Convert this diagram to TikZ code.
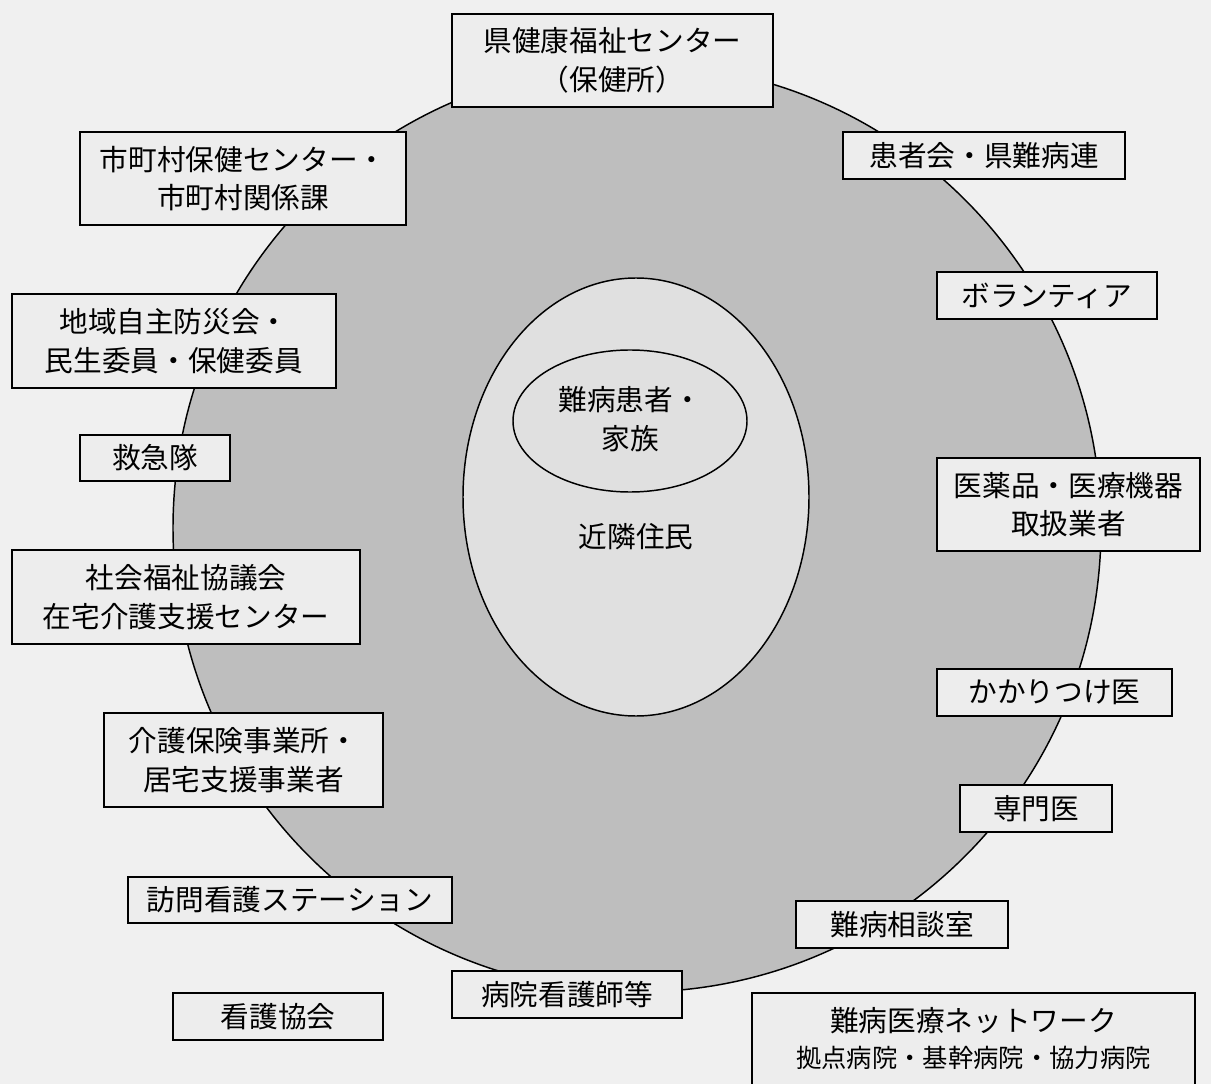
\documentclass[tikz,border=0pt]{standalone}
\usepackage{fontspec}
\setmainfont{Noto Sans CJK JP}
\definecolor{bgcol}{HTML}{F0F0F0}
\definecolor{circcol}{HTML}{BEBEBE}
\definecolor{innercol}{HTML}{E0E0E0}
\definecolor{boxcol}{HTML}{EDEDED}
\begin{document}
\begin{tikzpicture}[x=0.75pt,y=-0.75pt,
  orgbox/.style={draw=black, line width=1.1pt, fill=boxcol, align=center, inner sep=0pt,
    font=\fontsize{21.5}{29}\selectfont},
  label/.style={align=center, inner sep=0pt, font=\fontsize{21.5}{29}\selectfont},
  ring/.style={draw=black, line width=1.1pt}]
\useasboundingbox (0,0) rectangle (1211,1084);
\clip (0,0) rectangle (1211,1084);
\fill[bgcol] (0,0) rectangle (1211,1084);
% outer region
\draw[ring, fill=circcol] (637,528) circle [radius=348pt];
% neighbourhood ellipse
\draw[ring, fill=innercol] (636,497) ellipse [x radius=129.75pt, y radius=164.25pt];
% patient ellipse
\draw[ring, fill=innercol] (630,421) ellipse [x radius=87.75pt, y radius=53.25pt];
\node[label] (patient) at (630,419) {難病患者・\\家族};
\node[label] (neighbor) at (636,537) {近隣住民};
% boxes
\node[orgbox, minimum width=240.75pt, minimum height=69.75pt] (ken) at (612.5,60.5) {県健康福祉センター\\（保健所）};
\node[orgbox, minimum width=244.5pt, minimum height=69.75pt] (city) at (243,178.5) {市町村保健センター・\\市町村関係課};
\node[orgbox, minimum width=243pt, minimum height=70.5pt] (local) at (174,341) {地域自主防災会・\\民生委員・保健委員};
\node[orgbox, minimum width=112.5pt, minimum height=34.5pt] (ambul) at (155,458) {救急隊};
\node[orgbox, minimum width=261pt, minimum height=70.5pt] (welfare) at (186,597) {社会福祉協議会\\在宅介護支援センター};
\node[orgbox, minimum width=209.25pt, minimum height=70.5pt] (care) at (243.5,760) {介護保険事業所・\\居宅支援事業者};
\node[orgbox, minimum width=243pt, minimum height=34.5pt] (visit) at (290,900) {訪問看護ステーション};
\node[orgbox, minimum width=157.5pt, minimum height=35.25pt] (nurseassoc) at (278,1016.5) {看護協会};
\node[orgbox, minimum width=172.5pt, minimum height=35.25pt] (hospnurse) at (567,994.5) {病院看護師等};
\node[orgbox, minimum width=211.5pt, minimum height=35.25pt] (assoc) at (984,155.5) {患者会・県難病連};
\node[orgbox, minimum width=165pt, minimum height=35.25pt] (volun) at (1047,295.5) {ボランティア};
\node[orgbox, minimum width=197.25pt, minimum height=69.75pt] (pharma) at (1068.5,504.5) {医薬品・医療機器\\取扱業者};
\node[orgbox, minimum width=176.25pt, minimum height=35.25pt] (gp) at (1054.5,692.5) {かかりつけ医};
\node[orgbox, minimum width=114pt, minimum height=35.25pt] (spec) at (1036,808.5) {専門医};
\node[orgbox, minimum width=159pt, minimum height=35.25pt] (consult) at (902,924.5) {難病相談室};
\node[orgbox, minimum width=332.25pt, minimum height=69pt] (network) at (973.5,1039)
  {難病医療ネットワーク\\[-2pt]{\fontsize{19}{26}\selectfont 拠点病院・基幹病院・協力病院}};
\end{tikzpicture}
\end{document}
